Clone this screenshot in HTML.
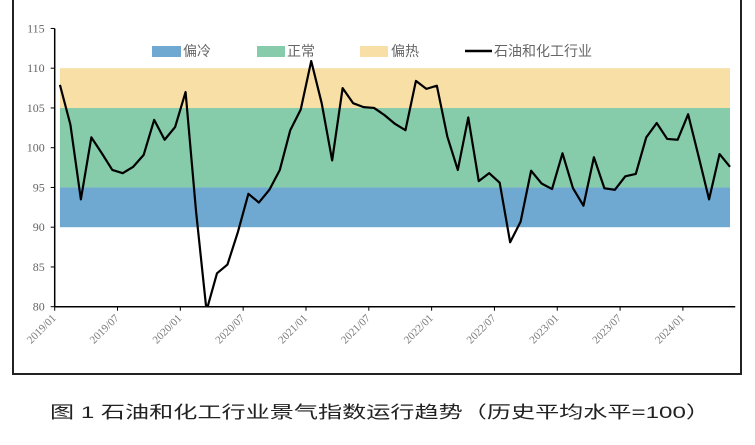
<!DOCTYPE html>
<html><head><meta charset="utf-8"><style>
body{margin:0;background:#fff;}
svg{display:block;font-family:"Liberation Serif","Noto Serif CJK SC",serif;}
</style></head><body>
<svg id="chart" width="755" height="445" viewBox="0 0 755 445">
<rect x="13" y="-3" width="728" height="377" fill="none" stroke="#222" stroke-width="2"/>
<g id="bands"></g>
<g id="axes"></g>
<polyline id="line" fill="none" stroke="#000" stroke-width="2.2" stroke-linejoin="round"/>
<g font-size="14" fill="#666">
<g><rect x="152" y="46" width="29" height="11" fill="#6fa8d1"/><text x="183" y="56" font-family="Liberation Sans,Noto Sans CJK SC,sans-serif">偏冷</text></g>
<g><rect x="257" y="46" width="28" height="11" fill="#86cbaa"/><text x="287" y="56" font-family="Liberation Sans,Noto Sans CJK SC,sans-serif">正常</text></g>
<g><rect x="360" y="46" width="28" height="11" fill="#f7dfa6"/><text x="391" y="56" font-family="Liberation Sans,Noto Sans CJK SC,sans-serif">偏热</text></g>
<g><line x1="465" y1="51" x2="492" y2="51" stroke="#000" stroke-width="2.5"/><text x="494" y="56" font-family="Liberation Sans,Noto Sans CJK SC,sans-serif">石油和化工行业</text></g>
</g>
<text x="50" y="418" font-size="17" fill="#222" textLength="660" lengthAdjust="spacingAndGlyphs" font-family="Liberation Sans,Noto Sans CJK SC,sans-serif">图 1  石油和化工行业景气指数运行趋势（历史平均水平=100）</text>
</svg>
<script>
const values=[107.9,102.9,93.5,101.3,99.3,97.2,96.8,97.6,99.1,103.5,101.0,102.6,107.0,92.0,79.5,84.2,85.3,89.4,94.2,93.1,94.7,97.2,102.2,104.8,110.9,105.6,98.4,107.5,105.6,105.1,105.0,104.1,103.0,102.2,108.4,107.4,107.8,101.4,97.2,103.8,95.8,96.8,95.6,88.1,90.7,97.1,95.5,94.8,99.3,94.9,92.7,98.8,94.9,94.7,96.4,96.7,101.3,103.1,101.1,101.0,104.2,98.9,93.5,99.2,97.6];
const yTicks=[80,85,90,95,100,105,110,115];
const xTickLabels=["2019/01","2019/07","2020/01","2020/07","2021/01","2021/07","2022/01","2022/07","2023/01","2023/07","2024/01"];
const bandLow=[90,95,105];
const bandHigh=[95,105,110];
const bandNames=["band-cold","band-normal","band-hot"];
const bandColors=["#6fa8d1","#86cbaa","#f7dfa6"];
const NS="http://www.w3.org/2000/svg";
const x0=54.7,step=10.47,n=values.length;
const xAxisEnd=x0+n*step;
function xc(i){return x0+(i+0.5)*step;}
function y(v){return 306.7-(v-80)*7.95;}
function mk(t,a,p){const e=document.createElementNS(NS,t);for(const k in a)e.setAttribute(k,a[k]);p.appendChild(e);return e;}
const bands=document.getElementById('bands');
bandLow.forEach((lo,i)=>{const r=mk('rect',{x:xc(0),y:y(bandHigh[i]),width:xc(n-1)-xc(0),height:y(lo)-y(bandHigh[i]),fill:bandColors[i]},bands);

});
const ax=document.getElementById('axes');
const ya=mk('line',{x1:x0,y1:y(115),x2:x0,y2:y(80),stroke:'#000','stroke-width':1.5},ax);


const xa=mk('line',{x1:x0,y1:y(80),x2:xAxisEnd,y2:y(80),stroke:'#000','stroke-width':1.5},ax);


yTicks.forEach(v=>{mk('line',{x1:x0-4,y1:y(v),x2:x0,y2:y(v),stroke:'#000'},ax);
const t=mk('text',{x:x0-10,y:y(v)+4,'text-anchor':'end','font-size':12,fill:'#666'},ax);t.textContent=v;

});
xTickLabels.forEach((l,i)=>{const xx=x0+i*6*step;mk('line',{x1:xx,y1:y(80),x2:xx,y2:y(80)+4,stroke:'#000'},ax);
const t=mk('text',{x:xx+2,y:y(80)+12,'text-anchor':'end','font-size':11,fill:'#777',transform:`rotate(-45 ${xx+2} ${y(80)+12})`},ax);t.textContent=l;

});
const clip=mk('clipPath',{id:'pc'},document.getElementById('chart'));
mk('rect',{x:x0,y:0,width:700,height:y(80)},clip);
const line=document.getElementById('line');
line.setAttribute('points',values.map((v,i)=>xc(i)+','+y(v)).join(' '));
line.setAttribute('clip-path','url(#pc)');
</script>
</body></html>
